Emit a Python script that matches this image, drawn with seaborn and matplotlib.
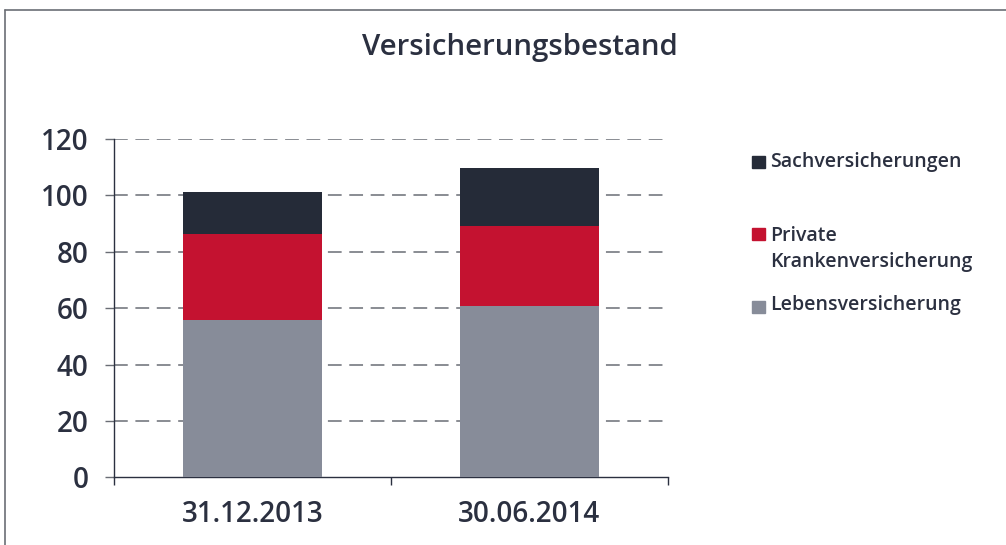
import matplotlib
matplotlib.use("Agg")
import matplotlib.pyplot as plt
from matplotlib.lines import Line2D
from matplotlib.patches import Rectangle
import numpy as np
import seaborn as sns

# Data
stichtage = ["31.12.2013", "30.06.2014"]
leben = [55.8, 60.8]
krankenversicherung = [30.4, 28.3]
sach = [14.9, 20.6]

series_labels = ["Lebensversicherung", "Private\nKrankenversicherung", "Sachversicherungen"]
series_colors = ["#878c99", "#c41230", "#252b38"]
text_color = "#2b3040"

sns.set_style("white")
plt.rcParams["font.family"] = ["Open Sans", "DejaVu Sans"]
plt.rcParams["font.weight"] = "semibold"

fig = plt.figure(figsize=(10.06, 5.45), dpi=100)
ax = fig.add_axes([0.1133, 0.1239, 0.5507, 0.6211])

# Stacked bars, bottom to top
bottom = np.zeros(len(stichtage))
for vals, color in zip([leben, krankenversicherung, sach], series_colors):
    sns.barplot(x=stichtage, y=vals, bottom=bottom, color=color, saturation=1,
                width=0.505, ax=ax, zorder=3, linewidth=0)
    bottom = bottom + np.array(vals)

ax.set_ylim(0, 120)
ax.set_xlim(-0.5, 1.5)
ax.set_yticks(range(0, 121, 20))
ax.set_xlabel("")
ax.set_ylabel("")

# Dashed grid lines
for y in range(20, 121, 20):
    ax.axhline(y, color="#6a6d75", lw=1.1, dashes=(9, 5), zorder=1)

for side in ["top", "right"]:
    ax.spines[side].set_visible(False)
for side in ["left", "bottom"]:
    ax.spines[side].set_color(text_color)
    ax.spines[side].set_linewidth(1)

ax.tick_params(axis="y", length=6.5, width=1, color="#6a6d75", direction="out",
               labelsize=20, labelcolor=text_color, pad=12, left=True)
ax.tick_params(axis="x", which="major", length=0, labelsize=20, labelcolor=text_color, pad=16)
ax.set_xticks([-0.5, 0.5, 1.5], minor=True)
ax.tick_params(axis="x", which="minor", length=6, width=1, color=text_color, direction="out",
               bottom=True)

fig.text(0.517, 0.913, "Versicherungsbestand", ha="center", va="center",
         fontsize=21.2, color=text_color)

# Legend drawn by hand to keep the reference's spacing
legend_rows = [(2, 0.702, 0.703), (1, 0.570, 0.586), (0, 0.436, 0.440)]
for idx, sq_y, txt_y in legend_rows:
    fig.patches.append(Rectangle((0.7475, sq_y - 0.011), 0.0125, 0.022,
                                 transform=fig.transFigure, color=series_colors[idx]))
    fig.text(0.7655, txt_y, series_labels[idx], ha="left", va="top" if idx == 1 else "center",
             fontsize=14, color=text_color, linespacing=1.45,
             transform=fig.transFigure)

# Partial frame around the figure
fig.add_artist(Line2D([0.005, 1.0], [0.982, 0.982], color="#6b6e75", lw=1.2,
                      transform=fig.transFigure))
fig.add_artist(Line2D([0.005, 0.005], [0.0, 0.982], color="#6b6e75", lw=1.2,
                      transform=fig.transFigure))

fig.savefig("out.png", dpi=100)
